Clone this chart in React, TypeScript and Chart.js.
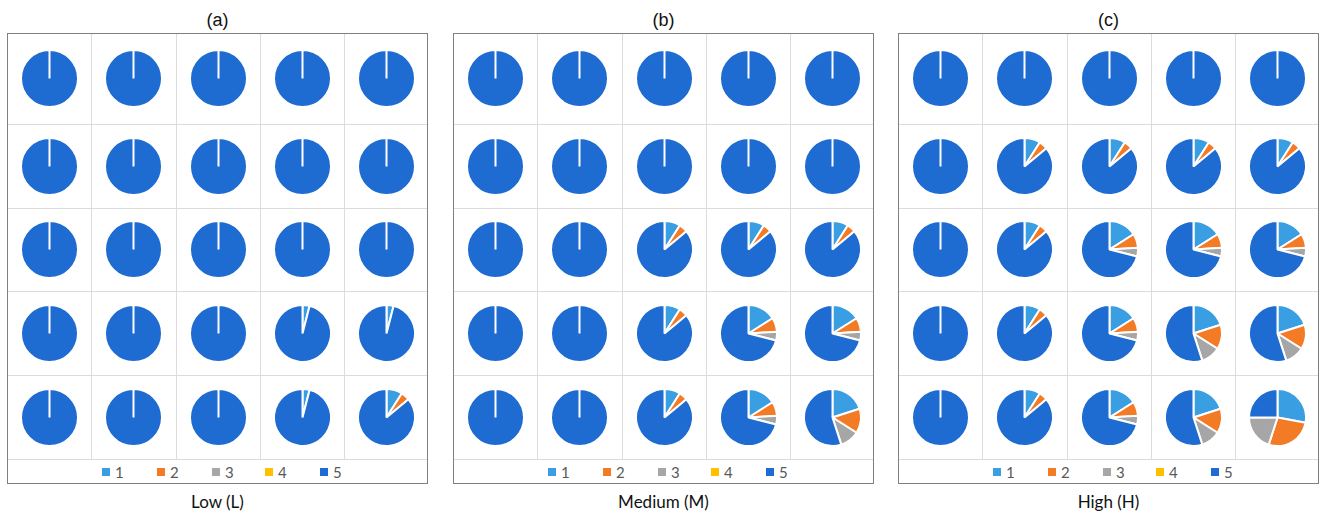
import React, { useEffect, useRef } from 'react';
import { Chart, registerables } from 'chart.js';

Chart.register(...registerables);

// ---- data ----
const categories = ['1', '2', '3', '4', '5'];
const sliceColors = ['#3a9ee3', '#f47b25', '#a6a6a6', '#ffc000', '#1e6bd1'];

const lowPies: number[][][] = [
  [[0, 0, 0, 0, 100], [0, 0, 0, 0, 100], [0, 0, 0, 0, 100], [0, 0, 0, 0, 100], [0, 0, 0, 0, 100]],
  [[0, 0, 0, 0, 100], [0, 0, 0, 0, 100], [0, 0, 0, 0, 100], [0, 0, 0, 0, 100], [0, 0, 0, 0, 100]],
  [[0, 0, 0, 0, 100], [0, 0, 0, 0, 100], [0, 0, 0, 0, 100], [0, 0, 0, 0, 100], [0, 0, 0, 0, 100]],
  [[0, 0, 0, 0, 100], [0, 0, 0, 0, 100], [0, 0, 0, 0, 100], [4, 0, 0, 0, 96], [4, 0, 0, 0, 96]],
  [[0, 0, 0, 0, 100], [0, 0, 0, 0, 100], [0, 0, 0, 0, 100], [4, 0, 0, 0, 96], [9, 5, 0, 0, 86]],
];

const mediumPies: number[][][] = [
  [[0, 0, 0, 0, 100], [0, 0, 0, 0, 100], [0, 0, 0, 0, 100], [0, 0, 0, 0, 100], [0, 0, 0, 0, 100]],
  [[0, 0, 0, 0, 100], [0, 0, 0, 0, 100], [0, 0, 0, 0, 100], [0, 0, 0, 0, 100], [0, 0, 0, 0, 100]],
  [[0, 0, 0, 0, 100], [0, 0, 0, 0, 100], [9, 5, 0, 0, 86], [9, 5, 0, 0, 86], [9, 5, 0, 0, 86]],
  [[0, 0, 0, 0, 100], [0, 0, 0, 0, 100], [9, 5, 0, 0, 86], [16, 8, 5, 0, 71], [16, 8, 5, 0, 71]],
  [[0, 0, 0, 0, 100], [0, 0, 0, 0, 100], [9, 5, 0, 0, 86], [16, 8, 5, 0, 71], [20, 14, 11, 0, 55]],
];

const highPies: number[][][] = [
  [[0, 0, 0, 0, 100], [0, 0, 0, 0, 100], [0, 0, 0, 0, 100], [0, 0, 0, 0, 100], [0, 0, 0, 0, 100]],
  [[0, 0, 0, 0, 100], [9, 5, 0, 0, 86], [9, 5, 0, 0, 86], [9, 5, 0, 0, 86], [9, 5, 0, 0, 86]],
  [[0, 0, 0, 0, 100], [9, 5, 0, 0, 86], [16, 8, 5, 0, 71], [16, 8, 5, 0, 71], [16, 8, 5, 0, 71]],
  [[0, 0, 0, 0, 100], [9, 5, 0, 0, 86], [16, 8, 5, 0, 71], [20, 14, 11, 0, 55], [20, 14, 11, 0, 55]],
  [[0, 0, 0, 0, 100], [9, 5, 0, 0, 86], [16, 8, 5, 0, 71], [20, 14, 11, 0, 55], [28, 27, 20, 0, 25]],
];

const panelTitles = ['(a)', '(b)', '(c)'];
const panelCaptions = ['Low (L)', 'Medium (M)', 'High (H)'];

// ---- layout ----
const PANEL_LEFTS = [7, 453, 898];
const PANEL_TOP = 33;
const PANEL_W = 421;
const ROW_H = [91, 84, 83, 84, 84];
const COL_W = [84, 85, 84, 84, 84];
const LEGEND_H = 25;
const PANEL_H = ROW_H.reduce((a, b) => a + b, 0) + LEGEND_H;
const PIE_SIZE = 59;
const LEGEND_X = [94, 149, 204, 257, 312];

function Pie({ values }: { values: number[] }) {
  const ref = useRef<HTMLCanvasElement | null>(null);
  useEffect(() => {
    if (!ref.current) return;
    const chart = new Chart(ref.current, {
      type: 'pie',
      data: {
        labels: categories,
        datasets: [
          {
            data: values,
            backgroundColor: sliceColors,
            borderColor: '#ffffff',
            borderWidth: 2,
          },
        ],
      },
      options: {
        responsive: false,
        animation: false,
        devicePixelRatio: 1,
        events: [],
        layout: { padding: 0 },
        plugins: { legend: { display: false }, tooltip: { enabled: false } },
      },
    });
    return () => chart.destroy();
  }, [values]);
  return (
    <canvas
      ref={ref}
      width={PIE_SIZE}
      height={PIE_SIZE}
      style={{ width: PIE_SIZE, height: PIE_SIZE, display: 'block' }}
    />
  );
}

function Panel({ idx, pies }: { idx: number; pies: number[][][] }) {
  const left = PANEL_LEFTS[idx];
  const rowTops: number[] = [];
  let acc = 0;
  ROW_H.forEach((h) => {
    rowTops.push(acc);
    acc += h;
  });
  const colLefts: number[] = [];
  let cacc = 0;
  COL_W.forEach((w) => {
    colLefts.push(cacc);
    cacc += w;
  });
  const gridBottom = acc;
  return (
    <>
      <div
        style={{
          position: 'absolute',
          left: left,
          width: PANEL_W,
          top: 8,
          textAlign: 'center',
          fontFamily: '"Liberation Sans", Arial, sans-serif',
          fontSize: 18,
          lineHeight: '24px',
          color: '#111',
        }}
      >
        {panelTitles[idx]}
      </div>
      <div
        style={{
          position: 'absolute',
          left: left,
          top: PANEL_TOP,
          width: PANEL_W,
          height: PANEL_H,
          boxSizing: 'border-box',
          border: '1.5px solid #808080',
          background: '#fff',
          overflow: 'hidden',
        }}
      >
        {rowTops.slice(1).map((t, i) => (
          <div
            key={'h' + i}
            style={{ position: 'absolute', left: 0, right: 0, top: t - 1, height: 1, background: '#dcdcdc' }}
          />
        ))}
        <div
          style={{ position: 'absolute', left: 0, right: 0, top: gridBottom - 1, height: 1, background: '#dcdcdc' }}
        />
        {colLefts.slice(1).map((l, i) => (
          <div
            key={'v' + i}
            style={{ position: 'absolute', top: 0, height: gridBottom, left: l - 1, width: 1, background: '#dcdcdc' }}
          />
        ))}
        {pies.map((row, r) =>
          row.map((vals, c) => (
            <div
              key={r + '-' + c}
              style={{
                position: 'absolute',
                left: colLefts[c] + COL_W[c] / 2 - PIE_SIZE / 2 - 1,
                top: rowTops[r] + ROW_H[r] / 2 - PIE_SIZE / 2 - 1,
              }}
            >
              <Pie values={vals} />
            </div>
          ))
        )}
        {categories.map((cat, i) => (
          <div
            key={'lg' + i}
            style={{
              position: 'absolute',
              left: LEGEND_X[i],
              top: gridBottom,
              height: LEGEND_H - 2,
              display: 'flex',
              alignItems: 'center',
              fontFamily: 'Lato, "Open Sans", sans-serif',
              fontSize: 15,
              color: '#595959',
            }}
          >
            <span style={{ display: 'inline-block', width: 8, height: 8, background: sliceColors[i], marginRight: 5 }} />
            <span>{cat}</span>
          </div>
        ))}
      </div>
      <div
        style={{
          position: 'absolute',
          left: left,
          width: PANEL_W,
          top: PANEL_TOP + PANEL_H + 6,
          textAlign: 'center',
          fontFamily: 'Lato, "Open Sans", sans-serif',
          fontSize: 17,
          lineHeight: '24px',
          color: '#111',
        }}
      >
        {panelCaptions[idx]}
      </div>
    </>
  );
}

export default function App() {
  const all = [lowPies, mediumPies, highPies];
  return (
    <div
      style={{
        position: 'absolute',
        left: 0,
        top: 0,
        width: 1323,
        height: 515,
        background: '#fff',
        overflow: 'hidden',
      }}
    >
      {all.map((p, i) => (
        <Panel key={i} idx={i} pies={p} />
      ))}
    </div>
  );
}
